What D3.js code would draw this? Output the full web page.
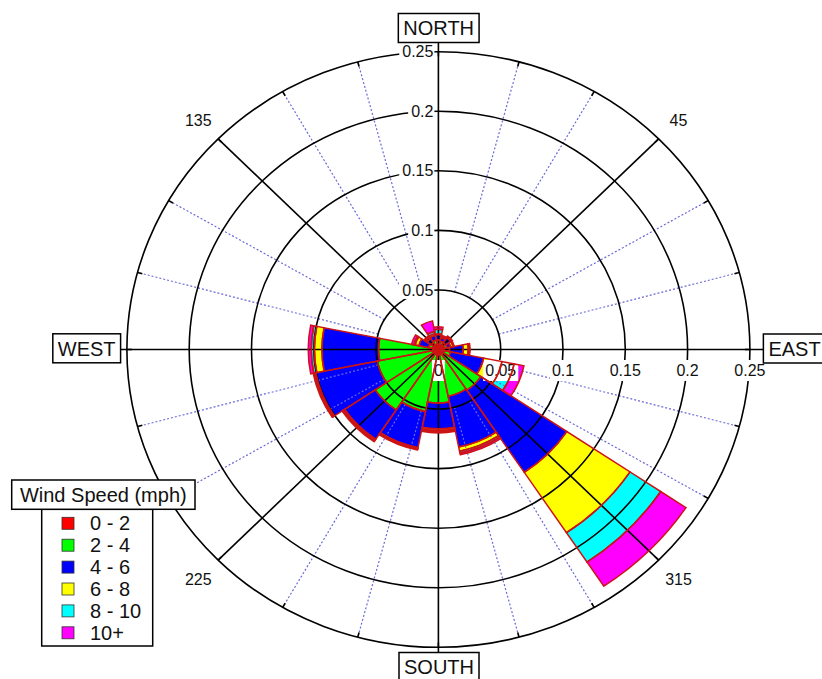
<!DOCTYPE html>
<html>
<head>
<meta charset="utf-8">
<script src="https://cdn.jsdelivr.net/npm/d3@7"></script>
<style>
  body { margin: 0; background: #fff; }
  svg { display: block; }
  text { font-family: "Liberation Sans", Arial, Helvetica, sans-serif; fill: #111; }
</style>
</head>
<body>
<svg id="chart" width="822" height="679"></svg>
<script>
// Wind direction sectors (degrees, counter-clockwise from east) and speed bins
const directions = [0, 22.5, 45, 67.5, 90, 112.5, 135, 157.5, 180, 202.5, 225, 247.5, 270, 292.5, 315, 337.5];
const speedBins = ["0 - 2", "2 - 4", "4 - 6", "6 - 8", "8 - 10", "10+"];
const binColors = ["#ff0000", "#00ff00", "#0000ff", "#ffff00", "#00ffff", "#ff00ff"];

// Relative frequency of each speed bin per direction sector
const freq0to2  = [0.0045, 0.0045, 0.0045, 0.0045, 0.0045, 0.0045, 0.0045, 0.0045, 0.0045, 0.0045, 0.0045, 0.0045, 0.0045, 0.0045, 0.0045, 0.0045];
const freq2to4  = [0.0045, 0.0025, 0.0025, 0.0025, 0.0035, 0.0035, 0.0025, 0.0035, 0.0435, 0.0455, 0.0565, 0.0485, 0.0405, 0.0355, 0.0365, 0.0055];
const freq4to6  = [0.0110, 0.0030, 0.0050, 0.0030, 0.0045, 0.0040, 0.0040, 0.0080, 0.0455, 0.0505, 0.0295, 0.0310, 0.0215, 0.0435, 0.0830, 0.0270];
const freq6to8  = [0.0040, 0.0020, 0.0005, 0.0010, 0.0005, 0.0015, 0.0015, 0.0030, 0.0060, 0.0007, 0.0010, 0.0008, 0.0015, 0.0035, 0.0610, 0.0150];
const freq8to10 = [0.0008, 0.0005, 0.0005, 0.0005, 0.0040, 0.0020, 0.0005, 0.0010, 0.0025, 0.0006, 0.0005, 0.0005, 0.0010, 0.0015, 0.0296, 0.0100];
const freq10up  = [0.0007, 0.0005, 0.0005, 0.0005, 0.0020, 0.0090, 0.0010, 0.0020, 0.0025, 0.0007, 0.0010, 0.0007, 0.0010, 0.0015, 0.0244, 0.0080];

const radialTicks = [0.05, 0.1, 0.15, 0.2, 0.25];
const radialTickLabels = ["0.05", "0.1", "0.15", "0.2", "0.25"];
const eastTicks = [0, 0.05, 0.1, 0.15, 0.2, 0.25];
const eastTickLabels = ["0", "0.05", "0.1", "0.15", "0.2", "0.25"];
const majorAngles = [45, 135, 225, 315];
const minorAngles = [15, 30, 60, 75, 105, 120, 150, 165, 195, 210, 240, 255, 285, 300, 330, 345];
const compassNames = ["EAST", "NORTH", "WEST", "SOUTH"];

const legendTitle = "Wind Speed (mph)";

// ---- layout ----
const svg = d3.select("#chart");
const cx = 438.4, cy = 349.5;
const R = 311.5;              // horizontal radius of the 0.25 ring
const k = 297.8 / 311.5;      // vertical squash of the polar frame
const rMax = 0.25;
const r = d3.scaleLinear().domain([0, rMax]).range([0, R]);
const rad = Math.PI / 180;
const half = 11.25;           // half sector width in degrees
const pt = (deg, v) => [cx + r(v) * Math.cos(deg * rad), cy - r(v) * k * Math.sin(deg * rad)];

const table = directions.map((dir, i) => {
  const row = { dir };
  [freq0to2, freq2to4, freq4to6, freq6to8, freq8to10, freq10up].forEach((arr, j) => row[speedBins[j]] = arr[i]);
  return row;
});
const stacked = d3.stack().keys(speedBins)(table);
const color = d3.scaleOrdinal().domain(speedBins).range(binColors);

const arc = d3.arc()
  .innerRadius(d => r(d[0]))
  .outerRadius(d => r(d[1]))
  .startAngle(d => (90 - d.data.dir - half) * rad)
  .endAngle(d => (90 - d.data.dir + half) * rad);

const polarTransform = `translate(${cx},${cy}) scale(1,${k})`;

// ---- wedge fills ----
const fillLayer = svg.append("g").attr("transform", polarTransform);
stacked.forEach(s => {
  fillLayer.selectAll(null).data(s).join("path")
    .attr("d", arc)
    .attr("fill", color(s.key))
    .attr("stroke", "none");
});

// ---- grid ----
const grid = svg.append("g");

// dotted spokes every 15 degrees
grid.selectAll(".minor").data(minorAngles).join("line")
  .attr("x1", d => pt(d, radialTicks[0])[0]).attr("y1", d => pt(d, radialTicks[0])[1])
  .attr("x2", d => pt(d, rMax)[0]).attr("y2", d => pt(d, rMax)[1])
  .attr("stroke", "#6a6ad8").attr("stroke-width", 1.2).attr("stroke-dasharray", "2,2");

// rings
grid.selectAll(".ring").data(radialTicks).join("ellipse")
  .attr("cx", cx).attr("cy", cy)
  .attr("rx", d => r(d)).attr("ry", d => r(d) * k)
  .attr("fill", "none").attr("stroke", "#000").attr("stroke-width", 1.6);

// small ticks on the outer ring
grid.selectAll(".otick").data(d3.range(0, 360, 15)).join("line")
  .attr("x1", d => pt(d, rMax)[0]).attr("y1", d => pt(d, rMax)[1])
  .attr("x2", d => pt(d, rMax - 0.004)[0]).attr("y2", d => pt(d, rMax - 0.004)[1])
  .attr("stroke", "#000").attr("stroke-width", 1.6);

// diagonal spokes
grid.selectAll(".major").data(majorAngles).join("line")
  .attr("x1", cx).attr("y1", cy)
  .attr("x2", d => pt(d, rMax)[0]).attr("y2", d => pt(d, rMax)[1])
  .attr("stroke", "#000").attr("stroke-width", 1.6);

// main axes reaching to the compass boxes
grid.append("line").attr("x1", 120).attr("x2", 768).attr("y1", cy).attr("y2", cy)
  .attr("stroke", "#000").attr("stroke-width", 1.6);
grid.append("line").attr("x1", cx).attr("x2", cx).attr("y1", 42).attr("y2", 654)
  .attr("stroke", "#000").attr("stroke-width", 1.6);

// ---- tick labels with white backing ----
const labels = svg.append("g").attr("font-size", 16);

radialTicks.forEach((t, i) => {
  const y = cy - r(t) * k;
  const txt = labels.append("text").attr("x", cx - 5).attr("y", y).attr("dy", "0.35em")
    .attr("text-anchor", "end").text(radialTickLabels[i]);
  const w = txt.node().getComputedTextLength();
  labels.insert("rect", "text").attr("x", cx - 6 - w - 2).attr("y", y - 9).attr("width", w + 4).attr("height", 18).attr("fill", "#fff");
});

eastTicks.forEach((t, i) => {
  const x = cx + r(t);
  const txt = labels.append("text").attr("x", x).attr("y", 376).attr("text-anchor", "middle").text(eastTickLabels[i]);
  const w = txt.node().getComputedTextLength();
  labels.insert("rect", "text").attr("x", x - w / 2 - 2).attr("y", 360).attr("width", w + 4).attr("height", 21).attr("fill", "#fff");
});

// angle labels outside the rim
labels.selectAll(".ang").data(majorAngles).join("text")
  .attr("x", d => pt(d, rMax * 1.09)[0]).attr("y", d => pt(d, rMax * 1.09)[1])
  .attr("dy", "0.35em").attr("text-anchor", "middle").text(d => d);

// ---- wedge outlines ----
const strokeLayer = svg.append("g").attr("transform", polarTransform);
stacked.forEach(s => {
  strokeLayer.selectAll(null).data(s).join("path")
    .attr("d", arc)
    .attr("fill", "none")
    .attr("stroke", "#cc1414")
    .attr("stroke-width", 1.5)
    .attr("vector-effect", "non-scaling-stroke")
    .attr("stroke-linejoin", "miter");
});

// ---- compass boxes ----
const compassCenters = [[794.5, 348.5], [438.7, 28], [86.7, 348.3], [439, 667]];
const compass = svg.append("g").attr("font-size", 20);
compassNames.forEach((name, i) => {
  const [x, y] = compassCenters[i];
  const t = compass.append("text").attr("x", x).attr("y", y).attr("dy", "0.36em")
    .attr("text-anchor", "middle").text(name);
  const w = t.node().getComputedTextLength();
  compass.insert("rect", "text").attr("x", x - w / 2 - 5).attr("y", y - 14.5)
    .attr("width", w + 10).attr("height", 29)
    .attr("fill", "#fff").attr("stroke", "#000").attr("stroke-width", 1.5);
});

// ---- legend ----
const legend = svg.append("g");
legend.append("rect").attr("x", 41.7).attr("y", 509.3).attr("width", 111).attr("height", 136.7)
  .attr("fill", "#fff").attr("stroke", "#000").attr("stroke-width", 1.5);
legend.append("rect").attr("x", 11.7).attr("y", 480).attr("width", 183.3).attr("height", 29.3)
  .attr("fill", "#fff").attr("stroke", "#000").attr("stroke-width", 1.5);
legend.append("text").attr("x", 103.3).attr("y", 501.5).attr("text-anchor", "middle")
  .attr("font-size", 20).text(legendTitle);

const rowY = d3.scalePoint().domain(speedBins).range([523.3, 632.8]);
const items = legend.selectAll(".item").data(speedBins).join("g");
items.append("rect").attr("x", 62).attr("y", d => rowY(d) - 6).attr("width", 12).attr("height", 12)
  .attr("fill", d => color(d)).attr("stroke", "#333").attr("stroke-width", 0.8);
items.append("text").attr("x", 90).attr("y", d => rowY(d) + 7).attr("font-size", 20).text(d => d);
</script>
</body>
</html>
